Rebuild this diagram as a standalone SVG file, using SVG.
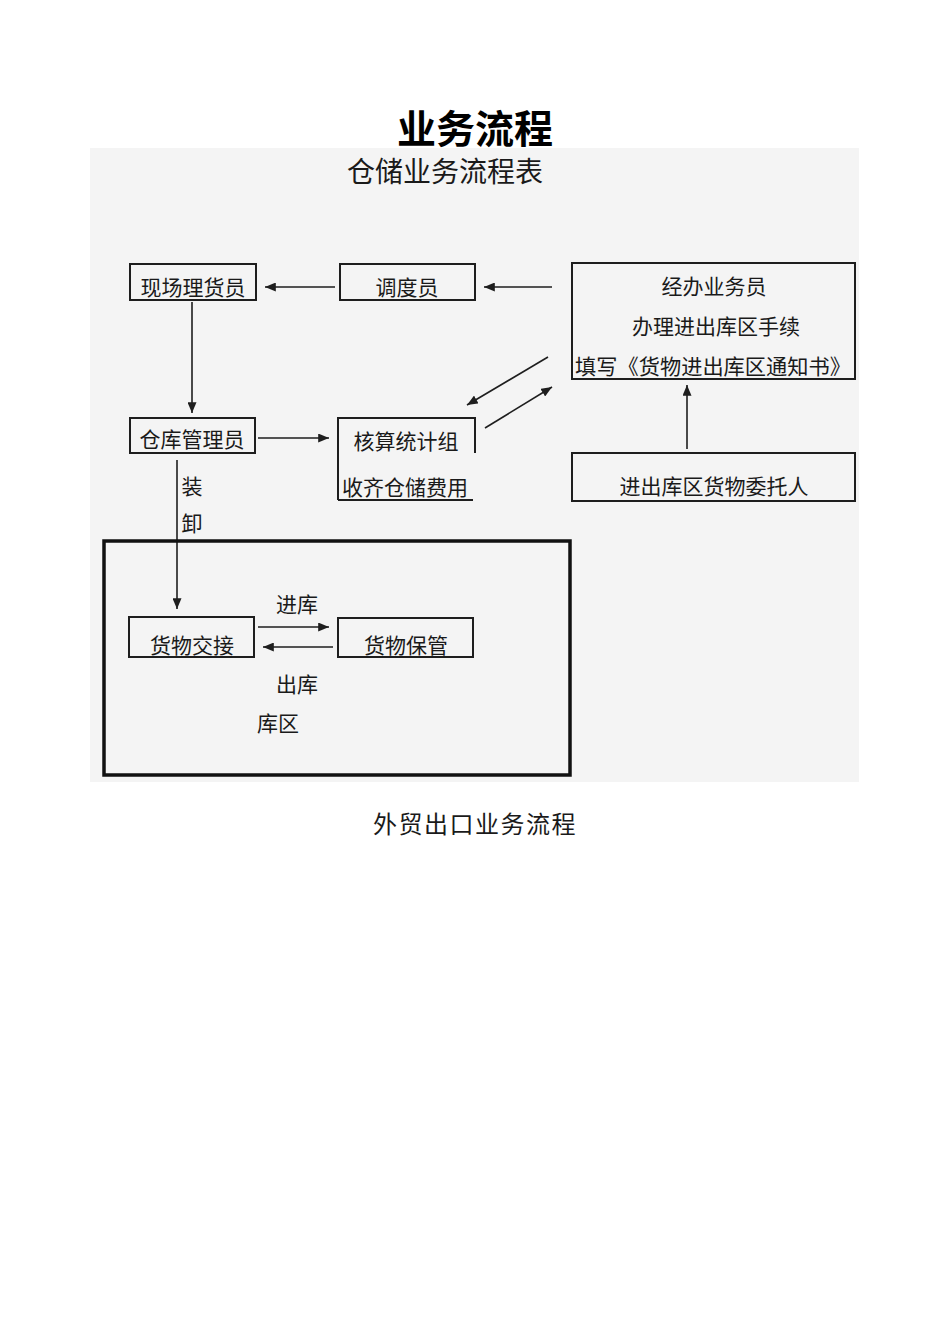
<svg xmlns="http://www.w3.org/2000/svg" width="950" height="1344" viewBox="0 0 950 1344">
<style>
.t{font-family:"Noto Sans CJK SC","Noto Sans CJK JP",sans-serif;fill:#1a1a1a;font-size:21px;text-anchor:middle}
.box{fill:none;stroke:#1e1e1e;stroke-width:2}
.ln{fill:none;stroke:#1e1e1e;stroke-width:1.6}
</style>
<defs>
<marker id="ah" viewBox="0 0 10 10" refX="10" refY="5" markerWidth="7" markerHeight="7" markerUnits="userSpaceOnUse" orient="auto">
<path d="M0,0 L10,5 L0,10 Z" fill="#1e1e1e"/>
</marker>
<marker id="a" viewBox="0 0 12 10" refX="12" refY="5" markerWidth="11" markerHeight="9" markerUnits="userSpaceOnUse" orient="auto">
<path d="M0,0 L12,5 L0,10 Z" fill="#1e1e1e"/>
</marker>
</defs>
<rect width="950" height="1344" fill="#ffffff"/>
<text x="475" y="143" style="font-family:'Noto Sans CJK SC',sans-serif;font-weight:bold;font-size:39px;text-anchor:middle;fill:#000">业务流程</text>
<rect x="90" y="148" width="769" height="634" fill="#f4f4f4"/>
<text x="445" y="182" class="t" style="font-size:28px">仓储业务流程表</text>

<g id="connectors">
<line class="ln" x1="335" y1="287" x2="265" y2="287" marker-end="url(#a)"/>
<line class="ln" x1="552" y1="287" x2="484" y2="287" marker-end="url(#a)"/>
<line class="ln" x1="192" y1="302" x2="192" y2="413" marker-end="url(#a)"/>
<line class="ln" x1="258" y1="438" x2="329" y2="438" marker-end="url(#a)"/>
<line class="ln" x1="548" y1="357" x2="467" y2="405" marker-end="url(#a)"/>
<line class="ln" x1="485" y1="428" x2="552" y2="387" marker-end="url(#a)"/>
<line class="ln" x1="687" y1="449" x2="687" y2="385" marker-end="url(#a)"/>
<line class="ln" x1="177" y1="460" x2="177" y2="609" marker-end="url(#a)"/>
<line class="ln" x1="258" y1="627" x2="329" y2="627" marker-end="url(#a)"/>
<line class="ln" x1="333" y1="647" x2="263" y2="647" marker-end="url(#a)"/>
<text x="192" y="494" class="t">装</text>
<text x="192" y="531" class="t">卸</text>
<text x="297" y="612" class="t">进库</text>
<text x="297" y="692" class="t">出库</text>
</g>

<g id="n-xianchang">
<rect class="box" x="130" y="264" width="126" height="36"/>
<text x="193" y="295" class="t">现场理货员</text>
</g>
<g id="n-diaodu">
<rect class="box" x="340" y="264" width="135" height="36"/>
<text x="407" y="295" class="t">调度员</text>
</g>
<g id="n-jingban">
<rect class="box" x="572" y="263" width="283" height="116"/>
<text x="714" y="294" class="t">经办业务员</text>
<text x="716" y="334" class="t">办理进出库区手续</text>
<text x="713" y="374" class="t" textLength="276" lengthAdjust="spacingAndGlyphs">填写《货物进出库区通知书》</text>
</g>
<g id="n-cangku">
<rect class="box" x="130" y="418" width="125" height="35"/>
<text x="192" y="447" class="t">仓库管理员</text>
</g>
<g id="n-hesuan">
<path class="box" d="M338,500 L338,418 L475,418 L475,453 M338,500 L473,500"/>
<text x="406" y="449" class="t">核算统计组</text>
<text x="405" y="495" class="t">收齐仓储费用</text>
</g>
<g id="n-weituo">
<rect class="box" x="572" y="453" width="283" height="48"/>
<text x="714" y="494" class="t">进出库区货物委托人</text>
</g>
<g id="n-kuqu">
<rect x="104" y="541" width="466" height="234" fill="none" stroke="#111" stroke-width="3.5"/>
<text x="278" y="731" class="t">库区</text>
</g>
<g id="n-jiaojie">
<rect class="box" x="129" y="617" width="125" height="40"/>
<text x="192" y="653" class="t">货物交接</text>
</g>
<g id="n-baoguan">
<rect class="box" x="338" y="618" width="135" height="39"/>
<text x="406" y="653" class="t">货物保管</text>
</g>
<text x="475" y="833" class="t" style="font-size:24px;letter-spacing:1.5px">外贸出口业务流程</text>
</svg>
